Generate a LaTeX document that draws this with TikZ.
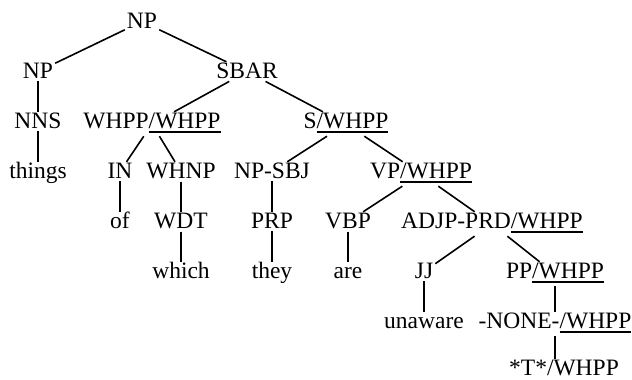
\documentclass[tikz,border=0pt]{standalone}
\usepackage{fontspec}
\setmainfont{Liberation Serif}
\usepackage{tikz}
% underlined head part of a slash category
\newcommand{\hdul}[1]{\setbox0=\hbox{#1}\rlap{\rule[-5pt]{\wd0}{1.7pt}}\box0}
\tikzset{
	tnode/.style={
		anchor=base,
		inner xsep=2pt,
		inner ysep=3pt,
		text height=13pt,
		font=\fontsize{23.5}{28}\selectfont
	},
	tlink/.style={line width=1.6pt}
}

\begin{document}
\begin{tikzpicture}[x=1pt, y=-1pt]
		\useasboundingbox (0,0) rectangle (632,380);
		% categories, one row per depth
		\node[tnode] (root) at (142,28) {NP};
		\node[tnode] (np) at (38,78) {NP};
		\node[tnode] (sbar) at (247,78) {SBAR};
		\node[tnode] (nns) at (38,128) {NNS};
		\node[tnode] (whpp) at (152,128) {WHPP\hdul{/WHPP}};
		\node[tnode] (s) at (346,128) {S\hdul{/WHPP}};
		\node[tnode] (things) at (38,178) {things};
		\node[tnode] (in) at (120,178) {IN};
		\node[tnode] (whnp) at (181,178) {WHNP};
		\node[tnode] (npsbj) at (272,178) {NP-SBJ};
		\node[tnode] (vp) at (421,178) {VP\hdul{/WHPP}};
		\node[tnode] (of) at (120,228) {of};
		\node[tnode] (wdt) at (181,228) {WDT};
		\node[tnode] (prp) at (272,228) {PRP};
		\node[tnode] (vbp) at (348,228) {VBP};
		\node[tnode] (adjp) at (492,228) {ADJP-PRD\hdul{/WHPP}};
		\node[tnode] (which) at (181,278) {which};
		\node[tnode] (they) at (272,278) {they};
		\node[tnode] (are) at (348,278) {are};
		\node[tnode] (jj) at (424,278) {JJ};
		\node[tnode] (pp) at (555,278) {PP\hdul{/WHPP}};
		\node[tnode] (unaware) at (424,328) {unaware};
		\node[tnode] (none) at (555,328) {-NONE-\hdul{/WHPP}};
		\node[tnode] (trace) at (564,375) {*T*/WHPP};
		% branches
		\draw[tlink] (root) -- (np);
		\draw[tlink] (root) -- (sbar);
		\draw[tlink] (np) -- (nns);
		\draw[tlink] (nns) -- (things);
		\draw[tlink] (sbar) -- (whpp);
		\draw[tlink] (sbar) -- (s);
		\draw[tlink] (whpp) -- (in);
		\draw[tlink] (whpp) -- (whnp);
		\draw[tlink] (in) -- (of);
		\draw[tlink] (whnp) -- (wdt);
		\draw[tlink] (wdt) -- (which);
		\draw[tlink] (s) -- (npsbj);
		\draw[tlink] (s) -- (vp);
		\draw[tlink] (npsbj) -- (prp);
		\draw[tlink] (prp) -- (they);
		\draw[tlink] (vp) -- (vbp);
		\draw[tlink] (vp) -- (adjp);
		\draw[tlink] (vbp) -- (are);
		\draw[tlink] (adjp) -- (jj);
		\draw[tlink] (adjp) -- (pp);
		\draw[tlink] (jj) -- (unaware);
		\draw[tlink] (pp) -- (none);
		\draw[tlink] (none.south) -- (none.south |- trace.north);
	\end{tikzpicture}
\end{document}
